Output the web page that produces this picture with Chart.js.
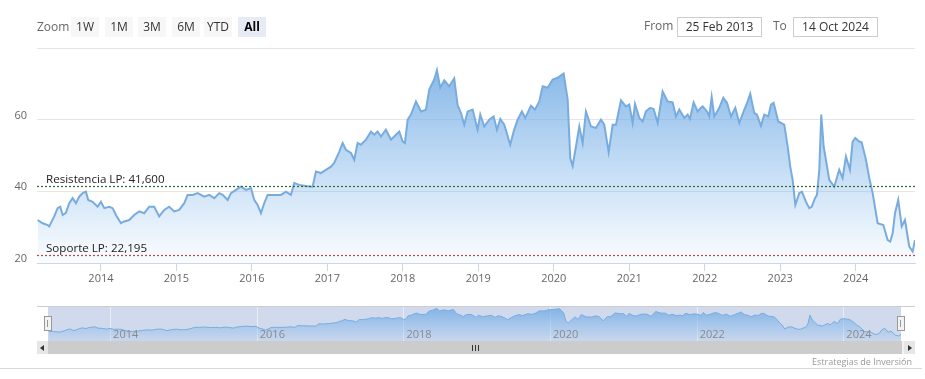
<!DOCTYPE html>
<html>
<head>
<meta charset="utf-8">
<script src="https://cdn.jsdelivr.net/npm/chart.js@4.4.1/dist/chart.umd.min.js"></script>
<style>
  body { margin: 0; background: #fff; font-family: "Open Sans", sans-serif; }
  #wrap { position: relative; width: 925px; height: 379px; overflow: hidden; }
  canvas { position: absolute; left: 0; }
  .lbl { position: absolute; font-size: 12px; color: #666; line-height: 20px; }
  .btn { position: absolute; top: 17px; width: 28px; height: 20px; line-height: 20px; text-align: center;
         font-size: 12px; color: #333; background: #f7f7f7; }
  .btn.on { background: #e6ebf5; font-weight: bold; color: #000; }
  .box { position: absolute; top: 17px; width: 83px; height: 18px; line-height: 18px; border: 1px solid #ccc;
         text-align: center; font-size: 12px; color: #333; }
  .handle { position: absolute; top: 316px; width: 6px; height: 13px; background: #f2f2f2; border: 1px solid #999; }
  .handle:after { content: ""; position: absolute; left: 2px; top: 3px; width: 1px; height: 7px; background: #999; }
  #track { position: absolute; left: 37px; top: 341px; width: 878px; height: 13px; background: #f2f2f2; }
  #bar { position: absolute; left: 48px; top: 341px; width: 854px; height: 13px; background: #ccc; }
  .sbtn { position: absolute; top: 341px; width: 11px; height: 13px; background: #e6e6e6; }
  .arr { position: absolute; top: 4px; width: 0; height: 0; border-top: 3px solid transparent; border-bottom: 3px solid transparent; }
  #grip { position: absolute; left: 472px; top: 345px; width: 7px; height: 6px;
          background: repeating-linear-gradient(90deg, #333 0 1px, transparent 1px 3px); }
  #credit { position: absolute; right: 13px; top: 355px; font-size: 9px; color: #999; }
  #bottomline { position: absolute; left: 0; top: 368px; width: 922px; height: 1px; background: #d8d8d8; }
  #navtop { position: absolute; left: 37px; top: 306px; width: 878px; height: 1px; background: #ccc; }
</style>
</head>
<body>
<div id="wrap">
  <canvas id="main" width="925" height="290" style="top:0"></canvas>
  <canvas id="nav" width="925" height="35" style="top:306px"></canvas>
  <div id="navtop"></div>

  <div class="lbl" style="left:37px;top:17px">Zoom</div>
  <div class="btn" style="left:71px">1W</div>
  <div class="btn" style="left:105px">1M</div>
  <div class="btn" style="left:138px">3M</div>
  <div class="btn" style="left:172px">6M</div>
  <div class="btn" style="left:204px">YTD</div>
  <div class="btn on" style="left:238px">All</div>

  <div class="lbl" style="left:644px;top:16px">From</div>
  <div class="box" style="left:677px">25 Feb 2013</div>
  <div class="lbl" style="left:773px;top:16px">To</div>
  <div class="box" style="left:793px">14 Oct 2024</div>

  <div class="handle" style="left:44px"></div>
  <div class="handle" style="left:897px"></div>

  <div id="track"></div>
  <div id="bar"></div>
  <div class="sbtn" style="left:37px"><div class="arr" style="left:3px;border-right:4px solid #333"></div></div>
  <div class="sbtn" style="left:904px"><div class="arr" style="left:4px;border-left:4px solid #333"></div></div>
  <div id="grip"></div>

  <div id="credit">Estrategias de Inversión</div>
  <div id="bottomline"></div>
</div>

<script>
// fechas en años decimales, precio de cierre aproximado
const dates = [
  2013.161, 2013.228, 2013.294, 2013.315, 2013.381, 2013.426, 2013.461, 2013.493, 2013.536, 2013.580,
  2013.625, 2013.669, 2013.712, 2013.758, 2013.801, 2013.832, 2013.890, 2013.956, 2014.000, 2014.044,
  2014.110, 2014.155, 2014.199, 2014.265, 2014.309, 2014.375, 2014.441, 2014.507, 2014.574, 2014.640,
  2014.706, 2014.772, 2014.839, 2014.905, 2014.971, 2015.037, 2015.104, 2015.149, 2015.215, 2015.281,
  2015.369, 2015.435, 2015.501, 2015.568, 2015.613, 2015.679, 2015.723, 2015.789, 2015.855, 2015.921,
  2015.988, 2016.031, 2016.076, 2016.120, 2016.164, 2016.209, 2016.296, 2016.385, 2016.451, 2016.517,
  2016.561, 2016.628, 2016.716, 2016.805, 2016.849, 2016.915, 2016.981, 2017.048, 2017.091, 2017.158,
  2017.203, 2017.246, 2017.313, 2017.356, 2017.401, 2017.445, 2017.511, 2017.578, 2017.621, 2017.666,
  2017.710, 2017.776, 2017.843, 2017.909, 2017.953, 2017.998, 2018.028, 2018.064, 2018.108, 2018.174,
  2018.240, 2018.306, 2018.350, 2018.416, 2018.452, 2018.496, 2018.549, 2018.615, 2018.681, 2018.726,
  2018.770, 2018.814, 2018.859, 2018.925, 2018.991, 2019.026, 2019.079, 2019.145, 2019.203, 2019.247,
  2019.291, 2019.344, 2019.423, 2019.468, 2019.521, 2019.578, 2019.622, 2019.698, 2019.751, 2019.808,
  2019.853, 2019.919, 2019.985, 2020.051, 2020.131, 2020.184, 2020.218, 2020.250, 2020.294, 2020.338,
  2020.383, 2020.426, 2020.493, 2020.559, 2020.625, 2020.669, 2020.727, 2020.780, 2020.824, 2020.890,
  2020.956, 2021.000, 2021.045, 2021.076, 2021.133, 2021.178, 2021.221, 2021.278, 2021.323, 2021.376,
  2021.442, 2021.509, 2021.575, 2021.619, 2021.663, 2021.729, 2021.774, 2021.804, 2021.853, 2021.906,
  2021.950, 2021.973, 2022.030, 2022.060, 2022.092, 2022.127, 2022.193, 2022.246, 2022.295, 2022.348,
  2022.405, 2022.458, 2022.516, 2022.569, 2022.603, 2022.656, 2022.692, 2022.745, 2022.789, 2022.842,
  2022.878, 2022.913, 2022.974, 2023.010, 2023.054, 2023.099, 2023.133, 2023.165, 2023.200, 2023.253,
  2023.288, 2023.341, 2023.385, 2023.417, 2023.461, 2023.487, 2023.518, 2023.544, 2023.576, 2023.606,
  2023.650, 2023.716, 2023.782, 2023.827, 2023.871, 2023.924, 2023.960, 2023.994, 2024.047, 2024.079,
  2024.136, 2024.180, 2024.225, 2024.291, 2024.366, 2024.424, 2024.458, 2024.490, 2024.521, 2024.564,
  2024.610, 2024.653, 2024.710, 2024.755, 2024.786
];
const prices = [
  32.0, 31.1, 30.6, 30.2, 33.0, 35.3, 35.7, 33.4, 34.0, 36.7,
  38.1, 36.7, 38.5, 39.5, 39.9, 37.6, 37.1, 35.7, 37.1, 35.3,
  35.7, 35.3, 33.4, 31.1, 31.6, 32.0, 33.4, 34.4, 33.9, 35.7,
  35.7, 33.0, 34.8, 35.7, 34.4, 34.8, 36.7, 39.0, 39.0, 39.5,
  38.5, 39.0, 38.1, 39.5, 39.0, 37.6, 39.5, 40.4, 41.3, 40.4,
  40.9, 37.6, 36.2, 33.9, 36.7, 39.0, 39.0, 39.0, 39.9, 39.0,
  42.3, 41.8, 41.5, 41.3, 45.5, 45.1, 46.0, 46.9, 47.9, 51.1,
  53.5, 51.6, 50.7, 48.8, 53.5, 53.0, 54.4, 56.7, 55.8, 56.7,
  55.3, 57.2, 54.4, 55.8, 56.7, 53.9, 53.5, 60.0, 61.4, 65.1,
  62.3, 62.8, 68.4, 71.2, 73.8, 68.9, 71.0, 69.3, 71.5, 64.0,
  61.9, 58.6, 62.3, 62.8, 57.2, 61.4, 58.1, 60.0, 60.9, 57.2,
  60.2, 58.6, 53.0, 56.7, 60.0, 62.3, 60.5, 63.9, 62.8, 65.1,
  69.3, 68.9, 71.2, 71.7, 72.9, 65.6, 49.3, 47.1, 52.5, 58.1,
  53.5, 62.3, 58.1, 57.7, 60.0, 58.6, 50.9, 58.6, 58.6, 65.4,
  63.7, 64.2, 59.1, 64.4, 60.5, 59.5, 62.3, 63.3, 63.0, 59.1,
  67.9, 65.1, 64.8, 60.9, 62.8, 60.5, 61.4, 60.2, 64.8, 62.3,
  63.3, 63.7, 62.3, 60.9, 66.3, 60.9, 63.3, 66.1, 64.7, 60.9,
  63.3, 59.1, 62.3, 65.1, 67.2, 61.9, 61.4, 58.3, 61.4, 60.9,
  64.2, 64.7, 59.5, 59.1, 58.6, 52.5, 46.9, 43.2, 36.2, 39.5,
  39.9, 37.1, 35.3, 35.7, 38.1, 39.0, 46.0, 61.4, 52.5, 48.8,
  43.2, 41.3, 46.0, 43.7, 49.7, 46.0, 53.9, 54.9, 53.9, 53.7,
  48.8, 43.7, 39.5, 31.1, 30.6, 26.4, 26.0, 28.3, 33.9, 37.6,
  30.2, 32.0, 24.6, 23.2, 26.4
];
const yearTicks = [2014, 2015, 2016, 2017, 2018, 2019, 2020, 2021, 2022, 2023, 2024];
const navYears = [2014, 2016, 2018, 2020, 2022, 2024];
const startDate = 2013.153;
const endDate = 2024.786;

const resistencia = 41.600;
const soporte = 22.195;

const points = dates.map((d, i) => ({ x: d, y: prices[i] }));
const fmt = v => v.toFixed(3).replace('.', ',');

const levels = [
  { label: 'Resistencia LP: ' + fmt(resistencia), value: resistencia, color: '#2f6b2f' },
  { label: 'Soporte LP: ' + fmt(soporte), value: soporte, color: '#a8504a' }
];

function areaFill(ctx, top, bottom) {
  const area = ctx.chart.chartArea;
  if (!area) return 'rgba(124,181,236,0.4)';
  const g = ctx.chart.ctx.createLinearGradient(0, area.top, 0, area.bottom);
  g.addColorStop(0, 'rgba(116,172,228,' + top + ')');
  g.addColorStop(1, 'rgba(124,181,236,' + bottom + ')');
  return g;
}

const levelLines = {
  id: 'levelLines',
  afterDatasetsDraw(chart) {
    const { ctx, chartArea, scales } = chart;
    levels.forEach(l => {
      const py = Math.round(scales.y.getPixelForValue(l.value)) + 0.5;
      ctx.save();
      ctx.strokeStyle = l.color;
      ctx.lineWidth = 1.2;
      ctx.setLineDash([2, 2]);
      ctx.beginPath();
      ctx.moveTo(chartArea.left, py);
      ctx.lineTo(chartArea.right, py);
      ctx.stroke();
      ctx.fillStyle = '#222';
      ctx.font = '11.6px "Open Sans"';
      ctx.textBaseline = 'bottom';
      ctx.fillText(l.label, chartArea.left + 9, py - 1);
      ctx.restore();
    });
  }
};

new Chart(document.getElementById('main').getContext('2d'), {
  type: 'line',
  data: {
    datasets: [{
      data: points,
      borderColor: '#78acde',
      borderWidth: 2,
      pointRadius: 0,
      tension: 0,
      fill: 'start',
      backgroundColor: ctx => areaFill(ctx, 0.95, 0.03)
    }]
  },
  options: {
    responsive: false,
    animation: false,
    layout: { padding: { top: 48, right: 10, left: 0, bottom: 0 } },
    plugins: { legend: { display: false }, tooltip: { enabled: false } },
    scales: {
      x: {
        type: 'linear',
        min: startDate,
        max: endDate,
        afterFit: s => { s.height = 27; },
        afterBuildTicks: s => { s.ticks = yearTicks.map(v => ({ value: v })); },
        border: { color: '#ccd6eb' },
        grid: { drawOnChartArea: false, color: '#ccd6eb', tickLength: 8 },
        ticks: {
          padding: 1, color: '#666', autoSkip: false, maxRotation: 0,
          font: { family: 'Open Sans', size: 11 },
          callback: v => String(v)
        }
      },
      y: {
        min: 20,
        max: 80,
        afterFit: s => { s.width = 37; },
        border: { display: false },
        grid: { color: '#e6e6e6', drawTicks: false },
        ticks: {
          stepSize: 20, padding: 10, labelOffset: -4, color: '#666',
          font: { family: 'Open Sans', size: 11 },
          callback: v => (v === 80 ? '' : String(v))
        }
      }
    }
  },
  plugins: [levelLines]
});

const navDecor = {
  id: 'navDecor',
  beforeDatasetsDraw(chart) {
    const { ctx, chartArea, scales } = chart;
    ctx.save();
    ctx.fillStyle = 'rgba(102,133,194,0.3)';
    ctx.fillRect(chartArea.left, chartArea.top, chartArea.right - chartArea.left, chartArea.bottom - chartArea.top);
    ctx.strokeStyle = 'rgba(235,238,245,0.9)';
    ctx.lineWidth = 1;
    navYears.forEach(v => {
      const px = Math.round(scales.x.getPixelForValue(v)) + 0.5;
      ctx.beginPath();
      ctx.moveTo(px, chartArea.top);
      ctx.lineTo(px, chartArea.bottom);
      ctx.stroke();
    });
    ctx.restore();
  },
  afterDatasetsDraw(chart) {
    const { ctx, scales } = chart;
    ctx.save();
    ctx.fillStyle = '#8a8a8a';
    ctx.font = '11px "Open Sans"';
    ctx.textBaseline = 'middle';
    navYears.forEach(v => {
      ctx.fillText(String(v), scales.x.getPixelForValue(v) + 3, 29);
    });
    ctx.restore();
  }
};

new Chart(document.getElementById('nav').getContext('2d'), {
  type: 'line',
  data: {
    datasets: [{
      data: points,
      borderColor: '#78acde',
      borderWidth: 1,
      pointRadius: 0,
      tension: 0,
      fill: 'start',
      backgroundColor: ctx => areaFill(ctx, 0.9, 0.1)
    }]
  },
  options: {
    responsive: false,
    animation: false,
    layout: { padding: { top: 0, right: 24, left: 48, bottom: 0 } },
    plugins: { legend: { display: false }, tooltip: { enabled: false } },
    scales: {
      x: { type: 'linear', min: startDate, max: endDate, display: false },
      y: { min: 14, max: 78, display: false }
    }
  },
  plugins: [navDecor]
});
</script>
</body>
</html>
